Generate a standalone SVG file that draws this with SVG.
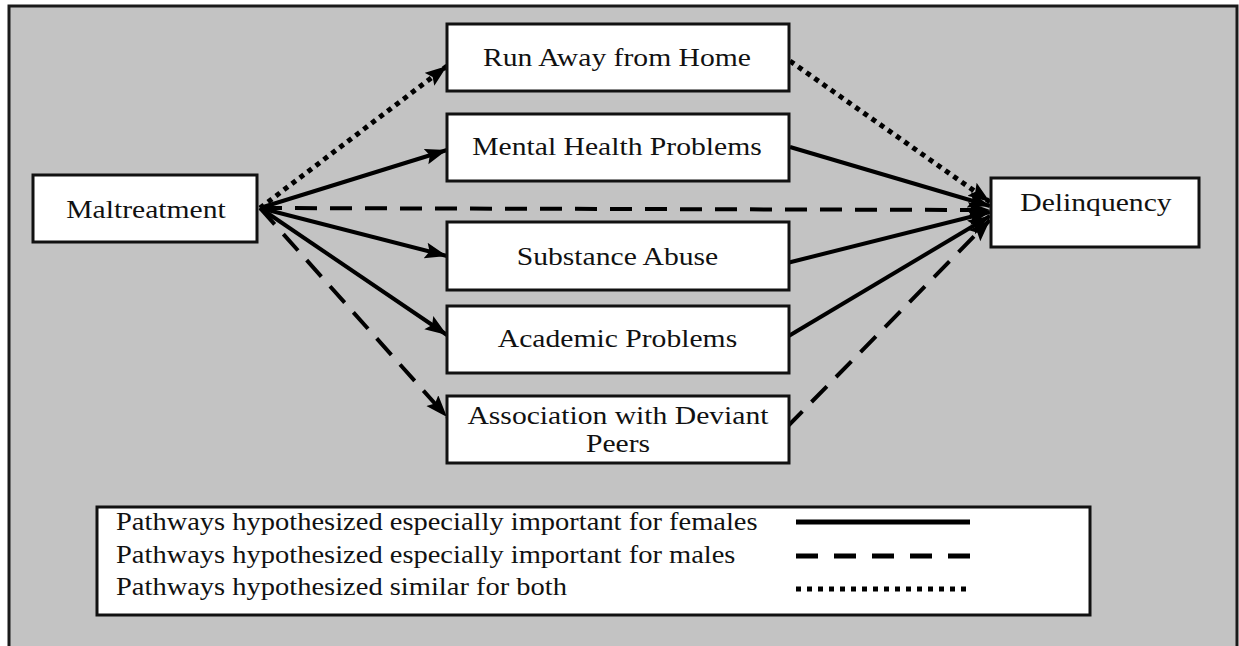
<svg xmlns="http://www.w3.org/2000/svg" width="1239" height="646" viewBox="0 0 1239 646">
<style>
.box{fill:#fff;stroke:#111;stroke-width:3}
.t{font-family:"Liberation Serif","Times New Roman",serif;font-size:26px;fill:#111;text-anchor:middle}
.lt{font-family:"Liberation Serif","Times New Roman",serif;font-size:25px;fill:#111}
.c{fill:none;stroke:#000;stroke-width:4}
.solid{marker-end:url(#ah)}
.dash{stroke-dasharray:22 13;marker-end:url(#ah)}
.dot{stroke-dasharray:5 5;stroke-width:5;marker-end:url(#ah)}
</style>
<defs>
<marker id="ah" markerUnits="userSpaceOnUse" markerWidth="24" markerHeight="18" refX="22" refY="8" orient="auto">
<path d="M0,0 L22,8 L0,16 L4,8 z" fill="#000"/>
</marker>
</defs>
<rect x="0" y="0" width="1239" height="646" fill="#fff"/>
<rect x="9" y="6" width="1228" height="660" fill="#c3c3c3" stroke="#1a1a1a" stroke-width="3"/>
<g id="connectors">
<path class="c dot" d="M260,208 L447,66"/>
<path class="c solid" d="M260,208 L447,150"/>
<path class="c dash" d="M260,208 L990,210"/>
<path class="c solid" d="M260,208 L447,256"/>
<path class="c solid" d="M260,208 L447,335"/>
<path class="c dash" d="M260,208 L447,417"/>
<path class="c dot" d="M790,61 L990,202"/>
<path class="c solid" d="M790,147 L990,206"/>
<path class="c solid" d="M787,263 L990,212"/>
<path class="c solid" d="M787,337 L990,216"/>
<path class="c dash" d="M787,427 L990,220"/>
</g>
<g id="maltreatment">
<rect class="box" x="33" y="175" width="224" height="67"/>
<text class="t" transform="scale(1.14 1)" x="128.07" y="218">Maltreatment</text>
</g>
<g id="runaway">
<rect class="box" x="447" y="24" width="342" height="67"/>
<text class="t" transform="scale(1.14 1)" x="541.23" y="66">Run Away from Home</text>
</g>
<g id="mentalhealth">
<rect class="box" x="447" y="114" width="342" height="67"/>
<text class="t" transform="scale(1.14 1)" x="541.23" y="155">Mental Health Problems</text>
</g>
<g id="substance">
<rect class="box" x="447" y="222" width="342" height="68"/>
<text class="t" transform="scale(1.14 1)" x="541.67" y="265">Substance Abuse</text>
</g>
<g id="academic">
<rect class="box" x="447" y="306" width="342" height="67"/>
<text class="t" transform="scale(1.14 1)" x="541.67" y="347">Academic Problems</text>
</g>
<g id="association">
<rect class="box" x="447" y="396" width="342" height="67"/>
<text class="t" transform="scale(1.14 1)" x="542.11" y="424" font-size="25">Association with Deviant</text>
<text class="t" transform="scale(1.14 1)" x="542.11" y="452" font-size="25">Peers</text>
</g>
<g id="delinquency">
<rect class="box" x="991" y="178" width="208" height="69"/>
<text class="t" transform="scale(1.14 1)" x="961.4" y="211">Delinquency</text>
</g>
<g id="legend">
<rect class="box" x="97" y="507" width="993" height="108"/>
<text class="lt" transform="scale(1.14 1)" x="101.75" y="530">Pathways hypothesized especially important for females</text>
<text class="lt" transform="scale(1.14 1)" x="101.75" y="563">Pathways hypothesized especially important for males</text>
<text class="lt" transform="scale(1.14 1)" x="101.75" y="595">Pathways hypothesized similar for both</text>
<line x1="796" y1="522" x2="970" y2="522" stroke="#000" stroke-width="5"/>
<line x1="796" y1="556" x2="970" y2="556" stroke="#000" stroke-width="5" stroke-dasharray="22 16"/>
<line x1="796" y1="589" x2="970" y2="589" stroke="#000" stroke-width="5" stroke-dasharray="5 6"/>
</g>
</svg>
